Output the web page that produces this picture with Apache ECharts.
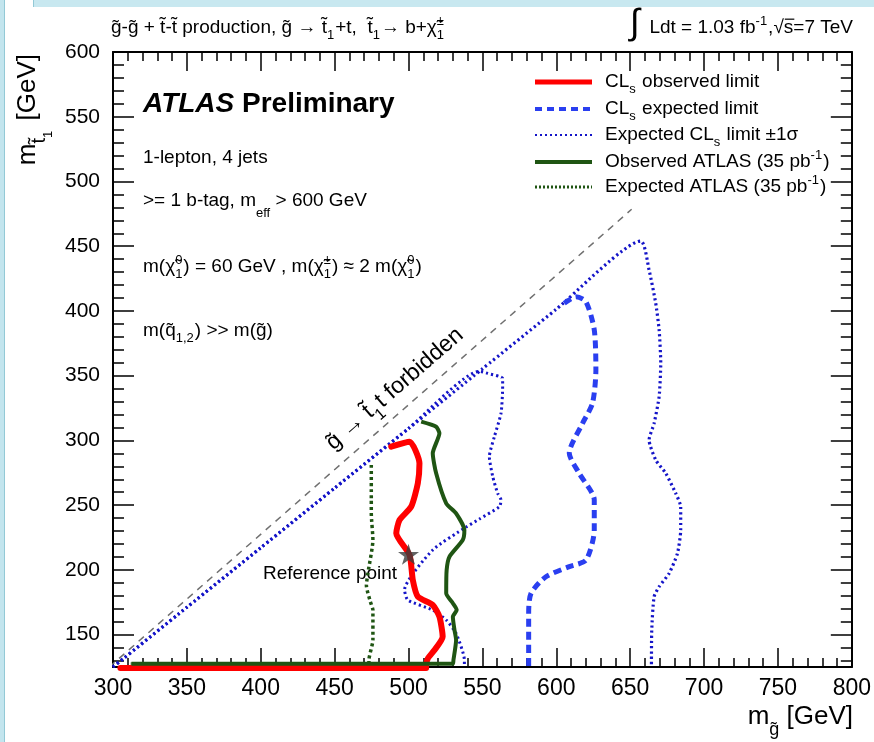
<!DOCTYPE html>
<html><head><meta charset="utf-8">
<script src="https://cdn.jsdelivr.net/npm/echarts@6/dist/echarts.min.js"></script>
<style>html,body{margin:0;padding:0;background:#fff}#c{width:874px;height:742px}</style>
</head><body><div id="c"></div>
<script>
// ---------------- data (m_gluino, m_stop) in GeV ----------------
const xTickValues = [300, 350, 400, 450, 500, 550, 600, 650, 700, 750, 800];
const yTickValues = [150, 200, 250, 300, 350, 400, 450, 500, 550, 600];
const yMinorValues = [130,140,160,170,180,190,210,220,230,240,260,270,280,290,310,320,330,340,360,370,380,390,410,420,430,440,460,470,480,490,510,520,530,540,560,570,580,590];

const kinematicLimit = [[297.5, 125], [651, 478.5]];

const expectedMinus1Sigma = [
  [300,125],[350,171.1],[400,217.1],[450,263.2],[500,309.2],[550,355.3],[600,401.3],
  [657.2,454.0],[662.8,431.6],[667.3,405.9],[669.6,385.3],[670.7,359.6],[669.6,333.8],
  [666.2,313.2],[662.8,300.3],[667.3,284.9],[674.1,274.6],[680.8,259.2],[684.2,248.8],[684.2,230.8],
  [682.0,212.8],[676.4,197.4],[669.6,187.0],[666.2,179.3],[664.6,153.6],[664.4,125]
];
const expectedPlus1Sigma = [
  [300,125],[350,171.1],[400,217.1],[450,263.2],[500,309.2],[548,353.4],[553.6,351.8],[563.7,348.0],[563.7,341.5],
  [562.6,321.0],[558.1,302.9],[554.7,287.5],
  [557.0,272.0],[560.3,259.2],[562.6,254.0],[561.5,248.8],[548,239.3],[539,233.1],[516.4,215.4],
  [497.3,184.5],[499.5,176.7],[516.4,169.0],[525.5,161.3],[532.2,151.0],[537.8,130.4],[537.8,125]
];
const expectedLimit = [
  [605.4,405.9],[613.3,411.0],[620.1,407.1],[625.7,385.3],[626.8,354.4],[624.5,328.7],[617.8,313.2],
  [608.8,290.1],[615.5,274.6],[625.7,254.0],[625.7,230.8],[620.1,207.6],[608.8,202.5],[593.0,194.7],
  [582.9,181.9],[581.3,166.5],[581.3,125]
];
const atlas35Expected = [
  [474.8,281.0],[474.8,254.0],[474.8,243.7],[475.9,223.1],[472.5,197.4],[471.5,188],[474,176],
  [475.9,169.0],[475.9,145.9],[473.2,130.4],[473.2,127.3],[312,127.3]
];
const atlas35Observed = [
  [508.6,314.5],[518.7,310.6],[520.9,305.5],[516.4,290.1],[518.7,274.6],[525.5,251.4],[532.2,243.7],
  [537.8,230.8],[536.7,223.1],[527.7,210.2],[525.8,199.9],[525.5,181.9],[530.0,174.2],[532.6,169.0],
  [530.0,163.9],[531.1,153.6],[532.2,145.9],[530.4,130.4],[530.0,127.5],[312.5,127.5]
];
const observedLimit = [
  [488.3,295.2],[500.7,299.0],[507.4,282.3],[506.3,266.9],[501.8,248.8],[493.9,238.5],[491.7,228.3],
  [500.7,211.5],[502.9,192.2],[506.3,179.3],[516.4,172.9],[520.9,163.9],[523.1,148.4],[517.6,138.1],
  [513.1,131.7],[511.9,126.0],[511.9,124.2],[305,124.2]
];
const referencePoint = [[500, 212]];

// ---------------- text helpers ----------------
const FF = '"Liberation Sans", Arial, Helvetica, sans-serif';
const mc = document.createElement('canvas').getContext('2d');
function fontStr(size, bold, italic){ return (italic?'italic ':'') + (bold?'bold ':'') + size + 'px ' + FF; }
function mw(t, size, bold, italic){ mc.font = fontStr(size,bold,italic); return mc.measureText(t).width; }
function layout(segs, size){
  const items = []; const lines = []; let x = 0; const s2 = Math.round(size*0.68);
  for (const g of segs){
    if (typeof g === 'string'){ items.push({t:g,x,dy:0,size}); x += mw(g,size); }
    else if (g.t !== undefined){
      const sz = g.s ? Math.round(size*g.s) : size;
      const dy = g.dy ? size*g.dy : 0;
      items.push({t:g.t,x,dy,size:sz,bold:g.bold,italic:g.italic});
      const w = mw(g.t,sz,g.bold,g.italic);
      if (g.over) lines.push({x1:x+1,x2:x+w+1,y:dy-size*0.78});
      x += w + (g.gap||0);
    } else {
      let w = 0;
      if (g.b !== undefined){ items.push({t:g.b,x,dy:size*0.33,size:s2}); w = Math.max(w,mw(g.b,s2)); }
      if (g.p !== undefined){ items.push({t:g.p,x,dy:-size*0.45,size:s2}); w = Math.max(w,mw(g.p,s2)); }
      x += w + 1;
    }
  }
  return {items, lines, width:x};
}
function mathGroup(segs, size, x, y, opt){
  opt = opt || {};
  const L = layout(segs,size);
  let x0 = 0;
  if (opt.align === 'right') x0 = -L.width; else if (opt.align === 'center') x0 = -L.width/2;
  const children = L.items.map(it => ({type:'text', x:x0+it.x, y:it.dy - 0.3465*it.size,
    style:{text:it.t, font:fontStr(it.size,it.bold,it.italic), fill:opt.color||'#000', align:'left', verticalAlign:'middle'}}));
  L.lines.forEach(l => children.push({type:'line', shape:{x1:x0+l.x1,y1:l.y,x2:x0+l.x2,y2:l.y}, style:{stroke:'#000',lineWidth:1.2}}));
  return {type:'group', x, y, rotation:opt.rotation||0, silent:true, z:100, children};
}

const G = 'g\u0303', T = 't\u0303', CHI = '\u03c7\u0303', Q = 'q\u0303';

const graphics = [
  // light-blue page frame
  {type:'rect', shape:{x:0,y:0,width:5,height:742}, style:{fill:'#c3e5ee'}, silent:true, z:0},
  {type:'line', shape:{x1:4.5,y1:0,x2:4.5,y2:742}, style:{stroke:'#93c9d6',lineWidth:1}, silent:true, z:0},
  {type:'rect', shape:{x:34,y:0,width:840,height:7}, style:{fill:'#c8e8f0'}, silent:true, z:0},
  {type:'line', shape:{x1:33.5,y1:0,x2:33.5,y2:7}, style:{stroke:'#93c9d6',lineWidth:1}, silent:true, z:0},
  // header
  mathGroup([G+'-'+G+' + '+T+'-'+T+' production, '+G+' \u2192 '+T, {b:'1'}, '+t,  '+T, {b:'1'}, '\u2192 b+'+CHI, {b:'1',p:'\u00b1'}], 19, 111, 34),
  {type:'text', x:630, y:42, style:{text:'\u222b', font:'36px '+FF, fill:'#000', align:'left', verticalAlign:'bottom'}, silent:true, z:100},
  mathGroup(['Ldt = 1.03 fb', {p:'-1'}, ',\u221a', {t:'s', over:true}, '=7 TeV'], 19, 853, 34, {align:'right'}),
  // ATLAS block
  mathGroup([{t:'ATLAS', bold:true, italic:true}, {t:' Preliminary', bold:true}], 28, 143, 114),
  mathGroup(['1-lepton, 4 jets'], 19, 143, 164),
  mathGroup(['>= 1 b-tag, m', {t:'eff', s:0.68, dy:0.55}, ' > 600 GeV'], 19, 143, 207),
  mathGroup(['m('+CHI, {b:'1',p:'0'}, ') = 60 GeV , m('+CHI, {b:'1',p:'\u00b1'}, ') \u2248 2 m('+CHI, {b:'1',p:'0'}, ')'], 19, 143, 273),
  mathGroup(['m('+Q, {b:'1,2'}, ') >> m('+G+')'], 19, 143, 337),
  // annotations
  mathGroup(['Reference point'], 19, 263, 580),
  mathGroup([G+' \u2192 '+T, {b:'1'}, 't forbidden'], 23, 400, 395, {align:'center', rotation:41*Math.PI/180}),
  // axis titles
  mathGroup(['m', {t:G, s:0.7, dy:0.38}, ' [GeV]'], 26, 853, 726, {align:'right'}),
  mathGroup(['m', {t:T, s:0.78, dy:0.36}, {t:'1', s:0.5, dy:0.62, gap:3}, ' [GeV]'], 26, 37, 54, {align:'right', rotation:Math.PI/2})
];

// legend
const legendRows = [
  {y:82,  stroke:'#ff0000', w:5, dash:null, segs:['CL', {b:'s'}, ' observed limit']},
  {y:109, stroke:'#2a3ff0', w:4, dash:[7,5], segs:['CL', {b:'s'}, ' expected limit']},
  {y:135, stroke:'#1414c8', w:2.2, dash:[2,3], segs:['Expected CL', {b:'s'}, ' limit \u00b11\u03c3']},
  {y:162, stroke:'#1f5513', w:4, dash:null, segs:['Observed ATLAS (35 pb', {p:'-1'}, ')']},
  {y:187, stroke:'#1f5513', w:3, dash:[2,2], segs:['Expected ATLAS (35 pb', {p:'-1'}, ')']}
];
legendRows.forEach(r => {
  graphics.push({type:'line', shape:{x1:535,y1:r.y,x2:592,y2:r.y}, style:{stroke:r.stroke,lineWidth:r.w,lineDash:r.dash}, silent:true, z:100});
  graphics.push(mathGroup(r.segs, 19, 605, r.y+6));
});

const axisLineStyle = {color:'#000', width:2};
const tickStyle = {color:'#000', width:1.5};
function xAx(pos, labels){
  return {type:'value', position:pos, min:300, max:800, interval:50,
    axisLine:{show:true, onZero:false, lineStyle:axisLineStyle},
    axisTick:{show:true, inside:true, length:19, lineStyle:tickStyle},
    minorTick:{show:true, splitNumber:5, length:9, lineStyle:tickStyle},
    axisLabel:{show:labels, color:'#000', fontSize:23, fontFamily:FF, margin:10},
    splitLine:{show:false}, minorSplitLine:{show:false}};
}
function yAx(pos, labels, minor){
  return {type:'value', position:pos, min:125, max:600,
    axisLine:{show:!minor, onZero:false, lineStyle:axisLineStyle},
    axisTick:{show:true, inside:true, length:minor?11:21, lineStyle:tickStyle, customValues: minor?yMinorValues:yTickValues},
    axisLabel:{show:labels, color:'#000', fontSize:21, fontFamily:FF, margin:13, customValues:yTickValues},
    splitLine:{show:false}};
}

const chart = echarts.init(document.getElementById('c'), null, {renderer:'canvas'});
chart.setOption({
  animation:false,
  backgroundColor:'#fff',
  grid:{left:113, right:21, top:52, bottom:75, containLabel:false},
  xAxis:[xAx('bottom', true), xAx('top', false)],
  yAxis:[yAx('left', true, false), yAx('left', false, true), yAx('right', false, false), yAx('right', false, true)],
  series:[
    {name:'kinematic', type:'line', data:kinematicLimit, symbol:'none', silent:true,
     lineStyle:{color:'#707070', width:1.5, type:[7,6]}},
    {name:'Expected CLs limit -1sigma', type:'line', data:expectedMinus1Sigma, symbol:'none', silent:true, smooth:0.2,
     lineStyle:{color:'#1414c8', width:3.2, type:[2.2,3]}},
    {name:'Expected CLs limit +1sigma', type:'line', data:expectedPlus1Sigma, symbol:'none', silent:true, smooth:0.2,
     lineStyle:{color:'#1414c8', width:3, type:[2.2,3]}},
    {name:'CLs expected limit', type:'line', data:expectedLimit, symbol:'none', silent:true, smooth:0.25,
     lineStyle:{color:'#2a3ff0', width:5, type:[8,5]}},
    {name:'Expected ATLAS (35 pb-1)', type:'line', data:atlas35Expected, symbol:'none', silent:true, smooth:0.2,
     lineStyle:{color:'#1f5513', width:3.5, type:[3,3]}},
    {name:'CLs observed limit', type:'line', data:observedLimit, symbol:'none', silent:true, smooth:0.2, clip:false,
     lineStyle:{color:'#ff0000', width:6, join:'round', cap:'round'}},
    {name:'Observed ATLAS (35 pb-1)', type:'line', data:atlas35Observed, symbol:'none', silent:true, smooth:0.2,
     lineStyle:{color:'#1f5513', width:4, join:'round'}},
    {name:'Reference point', type:'scatter', data:referencePoint, silent:true,
     symbol:'path://M50,0 L61.8,35.4 L98.6,35.4 L68.9,57.3 L80.3,92.7 L50,70.8 L19.7,92.7 L31.1,57.3 L1.4,35.4 L38.2,35.4 Z',
     symbolSize:21, itemStyle:{color:'#3c3c3c'}, z:10}
  ],
  graphic:graphics
});
</script></body></html>
